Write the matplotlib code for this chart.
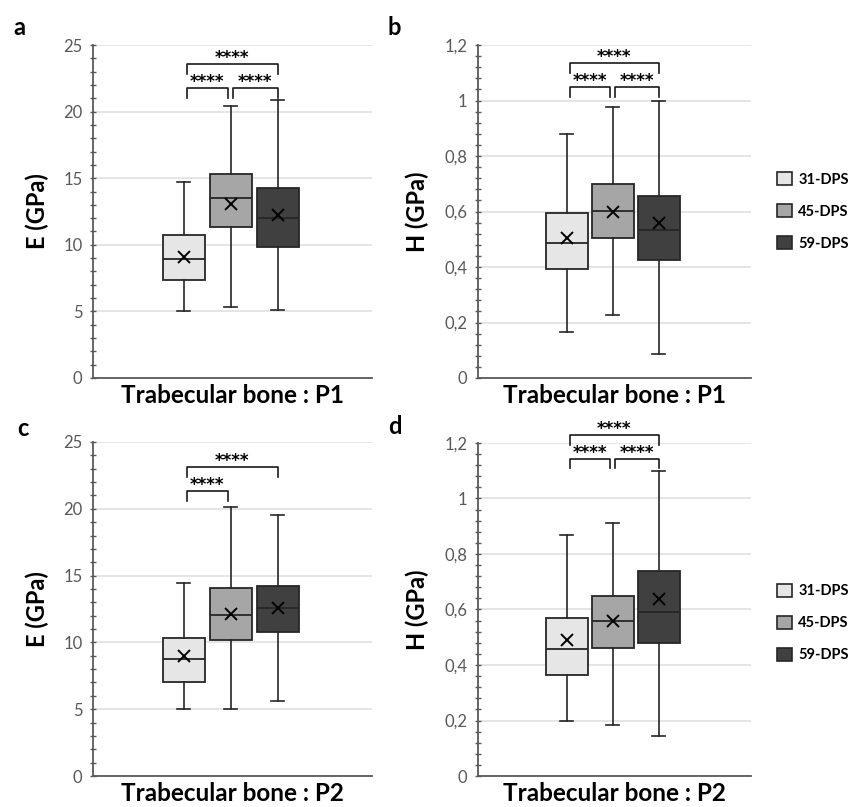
import matplotlib
matplotlib.use("Agg")
import matplotlib.pyplot as plt
from matplotlib.patches import Patch
from matplotlib.ticker import MultipleLocator, FuncFormatter

plt.rcParams["font.family"] = ["Lato", "DejaVu Sans"]

# -------------------------------------------------
# Data
# -------------------------------------------------
groups = ["31-DPS", "45-DPS", "59-DPS"]
colors = ["#e6e6e6", "#a6a6a6", "#404040"]

# panel a : E, P1
a_low = [5.0, 5.35, 5.1]
a_q1 = [7.35, 11.3, 9.85]
a_med = [8.9, 13.5, 12.0]
a_q3 = [10.75, 15.35, 14.3]
a_high = [14.75, 20.45, 20.9]
a_mean = [9.1, 13.1, 12.25]

# panel b : H, P1
b_low = [0.166, 0.228, 0.088]
b_q1 = [0.392, 0.505, 0.427]
b_med = [0.485, 0.602, 0.534]
b_q3 = [0.593, 0.698, 0.656]
b_high = [0.878, 0.978, 1.0]
b_mean = [0.504, 0.6, 0.558]

# panel c : E, P2
c_low = [5.0, 5.0, 5.6]
c_q1 = [7.05, 10.2, 10.8]
c_med = [8.75, 12.05, 12.55]
c_q3 = [10.3, 14.1, 14.25]
c_high = [14.45, 20.1, 19.5]
c_mean = [9.0, 12.1, 12.6]

# panel d : H, P2
d_low = [0.2, 0.185, 0.145]
d_q1 = [0.365, 0.462, 0.478]
d_med = [0.459, 0.56, 0.59]
d_q3 = [0.571, 0.65, 0.74]
d_high = [0.87, 0.912, 1.099]
d_mean = [0.489, 0.559, 0.639]

# significance brackets: (group i, group j, height)
a_sig = [(0, 2, 23.6), (0, 1, 21.8), (1, 2, 21.8)]
b_sig = [(0, 2, 1.134), (0, 1, 1.048), (1, 2, 1.048)]
c_sig = [(0, 2, 23.1), (0, 1, 21.3)]
d_sig = [(0, 2, 1.23), (0, 1, 1.144), (1, 2, 1.144)]

# -------------------------------------------------
# Figure
# -------------------------------------------------
fig = plt.figure(figsize=(8.49, 8.07), dpi=100)

axes_rects = {
    "a": [0.1095, 0.5316, 0.3286, 0.4126],
    "b": [0.563, 0.5316, 0.3216, 0.4126],
    "c": [0.1095, 0.0384, 0.3286, 0.4139],
    "d": [0.563, 0.0384, 0.3216, 0.4127],
}

# panel letter positions (axes fraction)
letter_pos = {"a": (-0.287, 1.053), "b": (-0.33, 1.053),
              "c": (-0.272, 1.04), "d": (-0.33, 1.048)}

panels = [
    ("a", a_low, a_q1, a_med, a_q3, a_high, a_mean, a_sig, "E (GPa)", "Trabecular bone : P1", 25, 5, 1),
    ("b", b_low, b_q1, b_med, b_q3, b_high, b_mean, b_sig, "H (GPa)", "Trabecular bone : P1", 1.2, 0.2, 0.04),
    ("c", c_low, c_q1, c_med, c_q3, c_high, c_mean, c_sig, "E (GPa)", "Trabecular bone : P2", 25, 5, 1),
    ("d", d_low, d_q1, d_med, d_q3, d_high, d_mean, d_sig, "H (GPa)", "Trabecular bone : P2", 1.2, 0.2, 0.04),
]

edge = "#262626"
positions = [1, 2, 3]


def fmt_comma(v, pos):
    s = f"{v:g}"
    return s.replace(".", ",")


for (name, lo, q1, med, q3, hi, mean, sig, ylab, xlab,
     ymax, major, minor) in panels:
    ax = fig.add_axes(axes_rects[name])

    stats = []
    for i in range(3):
        stats.append({
            "whislo": lo[i], "q1": q1[i], "med": med[i],
            "q3": q3[i], "whishi": hi[i], "mean": mean[i],
            "fliers": [],
        })

    bp = ax.bxp(
        stats, positions=positions, widths=0.9, patch_artist=True,
        showmeans=True, showfliers=False, capwidths=0.28,
        boxprops=dict(edgecolor=edge, linewidth=1.3),
        medianprops=dict(color=edge, linewidth=1.3),
        whiskerprops=dict(color=edge, linewidth=1.2),
        capprops=dict(color=edge, linewidth=1.2),
        meanprops=dict(marker="x", markeredgecolor="black",
                       markersize=9, markeredgewidth=1.4),
        zorder=3,
    )
    for patch, col in zip(bp["boxes"], colors):
        patch.set_facecolor(col)

    ax.set_xlim(-0.93, 5.0)
    ax.set_ylim(0, ymax)
    ax.set_xticks([])
    ax.yaxis.set_major_locator(MultipleLocator(major))
    ax.yaxis.set_minor_locator(MultipleLocator(minor))
    ax.yaxis.set_major_formatter(FuncFormatter(fmt_comma))
    ax.tick_params(axis="y", which="both", direction="inout",
                   color="#595959", length=5, width=1.0,
                   labelsize=12, labelcolor="#595959", pad=5)
    ax.tick_params(axis="y", which="minor", length=4)

    ax.grid(axis="y", which="major", color="#e0e0e0", linewidth=1.2, zorder=0)
    ax.set_axisbelow(True)

    for s in ["top", "right"]:
        ax.spines[s].set_visible(False)
    for s in ["left", "bottom"]:
        ax.spines[s].set_color("#595959")
        ax.spines[s].set_linewidth(1.3)

    ax.set_ylabel(ylab, fontsize=17, fontweight="bold")
    ax.yaxis.set_label_coords(-0.158 if name in "ac" else -0.18, 0.5)
    ax.set_xlabel(xlab, fontsize=17.5, fontweight="bold", labelpad=4)

    # significance brackets
    leg = 0.03 * ymax
    for i, j, h in sig:
        x0 = positions[i] + 0.06
        x1 = positions[j] - 0.06
        if i == 1:
            x0 = positions[i] + 0.04
        if j == 2:
            x1 = positions[j]
        ax.plot([x0, x0, x1, x1], [h - leg, h, h, h - leg],
                color="#1a1a1a", linewidth=1.2, clip_on=False, zorder=4)
        ax.text((x0 + x1) / 2, h + 0.018 * ymax, "****", ha="center",
                va="center", fontsize=12, fontweight="bold", color="black",
                family="DejaVu Sans")

    lx, ly = letter_pos[name]
    ax.text(lx, ly, name, transform=ax.transAxes,
            fontsize=17, fontweight="bold", ha="left", va="center")

    if name in "bd":
        handles = [Patch(facecolor=c, edgecolor=edge, linewidth=1.2) for c in colors]
        ax.legend(handles, groups, loc="center left",
                  bbox_to_anchor=(1.095, 0.5 if name == "b" else 0.46),
                  frameon=False, handlelength=1.0, handleheight=1.0,
                  handletextpad=0.45, labelspacing=1.2, borderpad=0,
                  borderaxespad=0,
                  prop={"size": 10.5, "weight": "bold"})

fig.savefig("out.png", dpi=100)
